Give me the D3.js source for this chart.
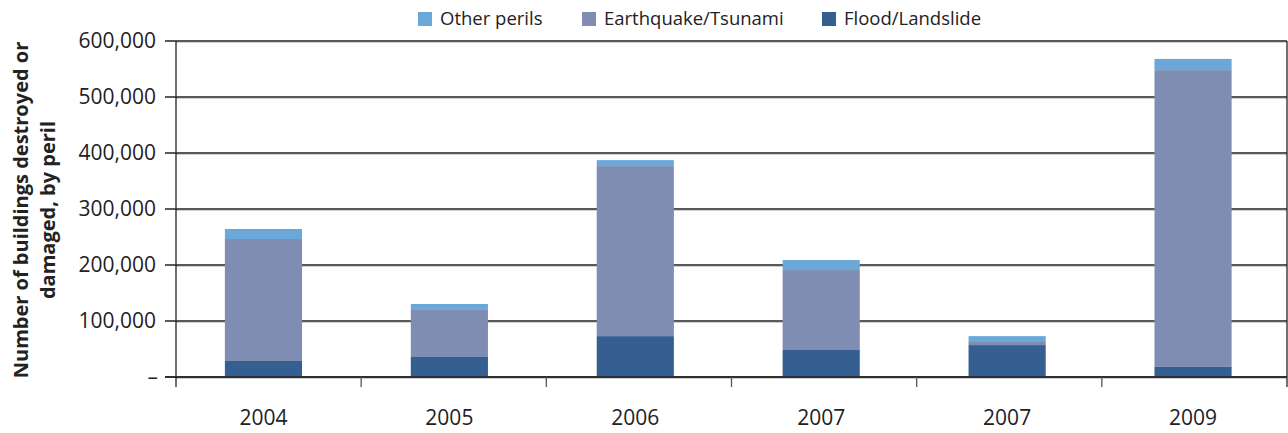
<!DOCTYPE html>
<html>
<head>
<meta charset="utf-8">
<script src="https://cdn.jsdelivr.net/npm/d3@7"></script>
<style>
  body { margin: 0; background: #fff; }
  text { font-family: "Open Sans", sans-serif; fill: #222; }
</style>
</head>
<body>
<svg id="chart"></svg>
<script>
const years = ["2004", "2005", "2006", "2007", "2007", "2009"];
const flood = [28600, 35700, 73000, 48200, 57000, 18000];
const quake = [217800, 84000, 303600, 142800, 7000, 530000];
const other = [17900, 10700, 10700, 17900, 9000, 20000];
const yTicks = [0, 100000, 200000, 300000, 400000, 500000, 600000];

const seriesKeys = ["flood", "quake", "other"];
const names = { other: "Other perils", quake: "Earthquake/Tsunami", flood: "Flood/Landslide" };
const colors = { other: "#6ca7da", quake: "#7f8db2", flood: "#355f90" };

const width = 1288, height = 433;
const plotLeft = 176, plotRight = 1287, plotTop = 41, plotBottom = 377;

const svg = d3.select("#chart").attr("width", width).attr("height", height);

// rows for the stack
const rows = years.map((y, i) => ({ idx: i, year: y, flood: flood[i], quake: quake[i], other: other[i] }));
const stacked = d3.stack().keys(seriesKeys)(rows);

const x = d3.scaleBand().domain(d3.range(years.length)).range([plotLeft - 5.5, plotRight - 1]).paddingInner(0.585).paddingOuter(0.2925);
const y = d3.scaleLinear().domain([0, 600000]).range([plotBottom, plotTop]);

// gridlines
const grid = svg.append("g");
grid.selectAll("line.shadow")
  .data(yTicks)
  .join("line")
  .attr("class", "shadow")
  .attr("x1", plotLeft).attr("x2", plotRight)
  .attr("y1", d => y(d) + 1.5).attr("y2", d => y(d) + 1.5)
  .attr("stroke", "#d0d0d0").attr("stroke-width", 1);
grid.selectAll("line.main")
  .data(yTicks)
  .join("line")
  .attr("class", "main")
  .attr("x1", plotLeft - 11).attr("x2", plotRight)
  .attr("y1", d => y(d)).attr("y2", d => y(d))
  .attr("stroke", "#222").attr("stroke-width", 1.3);

// bars
svg.append("g")
  .selectAll("g")
  .data(stacked)
  .join("g")
  .attr("fill", s => colors[s.key])
  .selectAll("rect")
  .data(s => s)
  .join("rect")
  .attr("x", d => x(d.data.idx))
  .attr("width", x.bandwidth())
  .attr("y", d => y(d[1]))
  .attr("height", d => y(d[0]) - y(d[1]));

// axis lines
svg.append("line")
  .attr("x1", plotLeft).attr("x2", plotLeft)
  .attr("y1", plotTop).attr("y2", plotBottom + 10)
  .attr("stroke", "#222").attr("stroke-width", 1.3);
svg.append("line")
  .attr("x1", plotRight).attr("x2", plotRight)
  .attr("y1", plotTop).attr("y2", plotBottom + 10)
  .attr("stroke", "#222").attr("stroke-width", 1.3);
svg.append("line")
  .attr("x1", plotLeft - 11).attr("x2", plotRight)
  .attr("y1", plotBottom).attr("y2", plotBottom)
  .attr("stroke", "#222").attr("stroke-width", 1.5);

// category separator ticks
const step = (plotRight - plotLeft) / years.length;
svg.append("g")
  .selectAll("line")
  .data(d3.range(1, years.length))
  .join("line")
  .attr("x1", i => plotLeft + i * step).attr("x2", i => plotLeft + i * step)
  .attr("y1", plotBottom).attr("y2", plotBottom + 10)
  .attr("stroke", "#555").attr("stroke-width", 1.3);

// y tick labels
svg.append("g")
  .selectAll("text")
  .data(yTicks)
  .join("text")
  .attr("x", d => d === 0 ? 158 : 156)
  .attr("y", d => y(d))
  .attr("dy", "0.35em")
  .attr("text-anchor", "end")
  .style("font-size", "21px")
  .text(d => d === 0 ? "–" : d3.format(",")(d));

// x labels
svg.append("g")
  .selectAll("text")
  .data(rows)
  .join("text")
  .attr("x", d => x(d.idx) + x.bandwidth() / 2)
  .attr("y", 418)
  .attr("dy", "0.35em")
  .attr("text-anchor", "middle")
  .style("font-size", "21px")
  .text(d => d.year);

// y title
const yt = svg.append("text")
  .attr("transform", "translate(0,210) rotate(-90)")
  .attr("text-anchor", "middle")
  .style("font-size", "20px")
  .style("font-weight", "bold");
yt.append("tspan").attr("x", 0).attr("y", 28).text("Number of buildings destroyed or");
yt.append("tspan").attr("x", 0).attr("y", 55).text("damaged, by peril");

// legend
const legendKeys = ["other", "quake", "flood"];
const legendX = [418, 582, 822];
const leg = svg.append("g")
  .selectAll("g")
  .data(legendKeys)
  .join("g")
  .attr("transform", (k, i) => `translate(${legendX[i]},19)`);
leg.append("rect")
  .attr("x", 0).attr("y", -7)
  .attr("width", 14).attr("height", 14)
  .attr("fill", k => colors[k]);
leg.append("text")
  .attr("x", 22).attr("y", 0)
  .attr("dy", "0.35em")
  .style("font-size", "18.5px")
  .text(k => names[k]);
</script>
</body>
</html>
